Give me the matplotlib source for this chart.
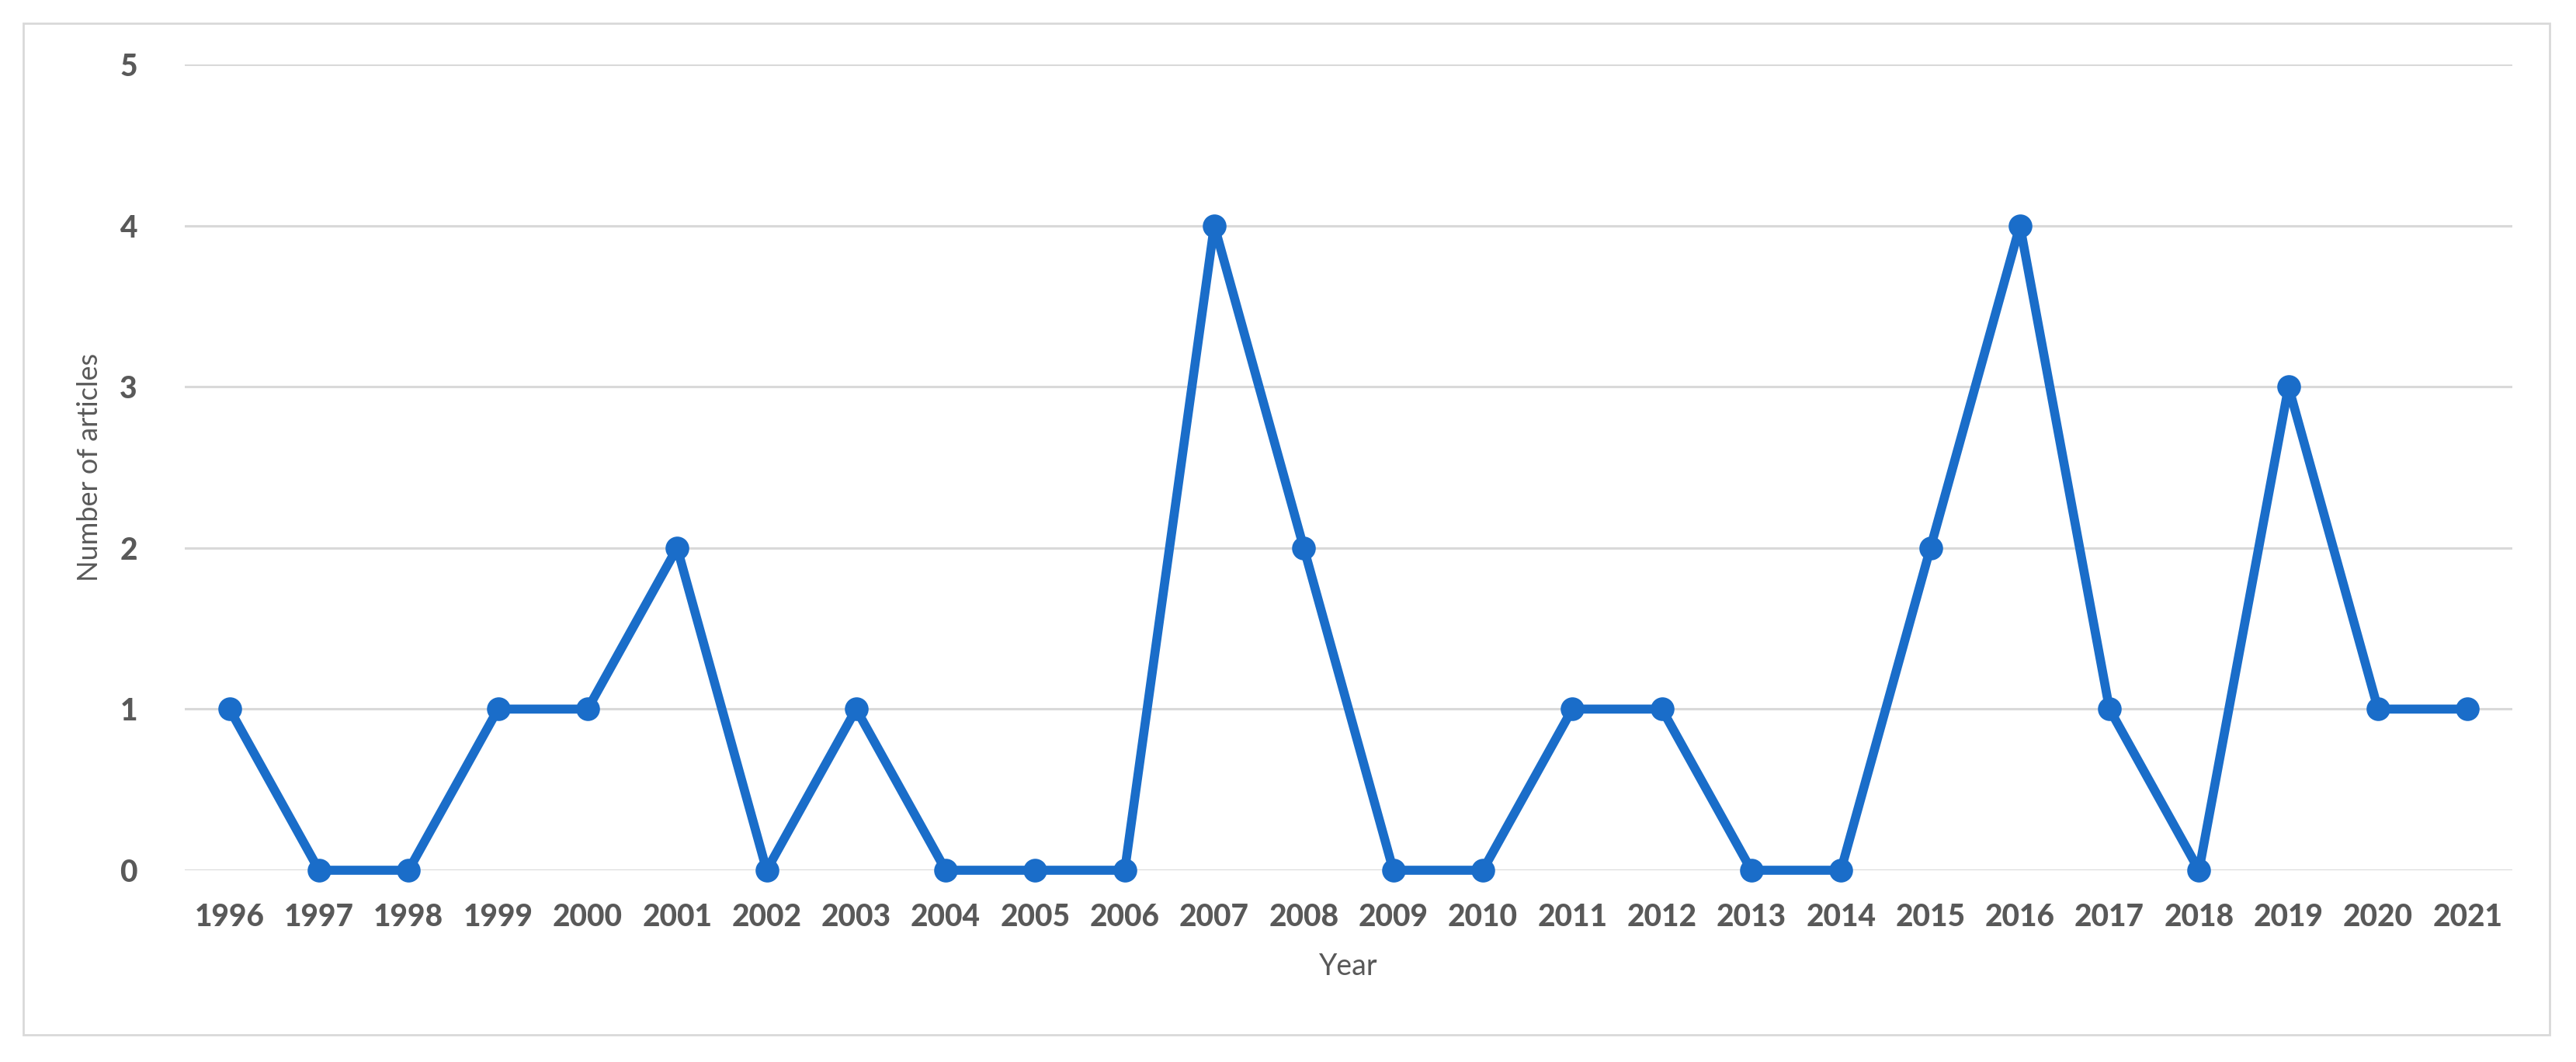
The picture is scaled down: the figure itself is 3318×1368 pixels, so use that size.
import matplotlib
matplotlib.use("Agg")
import matplotlib.pyplot as plt
from matplotlib.patches import Rectangle

years = ["1996", "1997", "1998", "1999", "2000", "2001", "2002", "2003", "2004",
         "2005", "2006", "2007", "2008", "2009", "2010", "2011", "2012", "2013",
         "2014", "2015", "2016", "2017", "2018", "2019", "2020", "2021"]
articles = [1, 0, 0, 1, 1, 2, 0, 1, 0, 0, 0, 4, 2, 0, 0, 1, 1, 0, 0, 2, 4, 1, 0, 3, 1, 1]
y_ticks = [0, 1, 2, 3, 4, 5]

W, H, DPI = 3318, 1368, 200
fig = plt.figure(figsize=(W / DPI, H / DPI), dpi=DPI)
fig.patch.set_facecolor("white")

# outer border
fig.patches.append(Rectangle((30 / W, 1 - 1333 / H), (3284 - 30) / W, (1333 - 30) / H,
                             transform=fig.transFigure, fill=False,
                             edgecolor="#d9d9d9", linewidth=1.0))

ax = fig.add_axes([238 / W, 1 - 1121 / H, (3236 - 238) / W, (1121 - 83) / H])
x = list(range(len(years)))
ax.plot(x, articles, color="#1a6dc9", linewidth=4.2, marker="o", markersize=10,
        clip_on=False, zorder=3, solid_joinstyle="round")

ax.set_xlim(-0.5, len(years) - 0.5)
ax.set_ylim(0, 5)
ax.set_yticks(y_ticks)
ax.set_xticks(x)
ax.set_xticklabels(years)
for s in ax.spines.values():
    s.set_visible(False)
ax.grid(axis="y", color="#d9d9d9", linewidth=1.1, zorder=0)
ax.set_axisbelow(True)
ax.tick_params(axis="both", length=0, colors="#595959")
ax.tick_params(axis="x", pad=15)
ax.tick_params(axis="y", pad=22)
for lbl in ax.get_xticklabels() + ax.get_yticklabels():
    lbl.set_fontfamily("Lato")
    lbl.set_fontweight("black")
    lbl.set_fontsize(14)
    lbl.set_color("#595959")

ax.set_xlabel("Year", fontfamily="Lato", fontsize=13.5, color="#595959", labelpad=10)
ax.set_ylabel("Number of articles", fontfamily="Lato", fontsize=13, color="#595959", labelpad=8)

fig.savefig("out.png", dpi=DPI, facecolor="white")
